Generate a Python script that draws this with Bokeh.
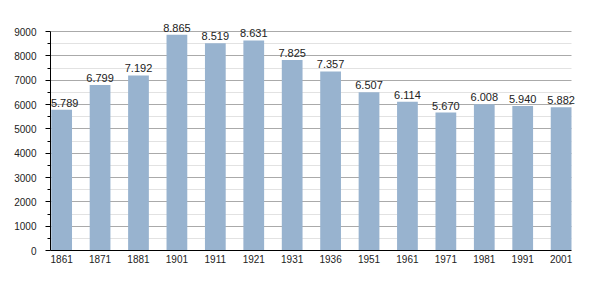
from bokeh.plotting import figure
from bokeh.models import Range1d, FixedTicker, ColumnDataSource, LabelSet
from bokeh.embed import file_html
from bokeh.resources import INLINE
from bokeh.core.properties import value

years = ["1861", "1871", "1881", "1901", "1911", "1921", "1931", "1936",
         "1951", "1961", "1971", "1981", "1991", "2001"]
population = [5789, 6799, 7192, 8865, 8519, 8631, 7825, 7357,
              6507, 6114, 5670, 6008, 5940, 5882]
y_ticks = [0, 1000, 2000, 3000, 4000, 5000, 6000, 7000, 8000, 9000]
y_minor = [500, 1500, 2500, 3500, 4500, 5500, 6500, 7500, 8500]

idx = list(range(len(years)))
labels = [f"{v:,}".replace(",", ".") for v in population]
# first label nudged right so it stays clear of the y axis
x_off = [3] + [0] * (len(years) - 1)
src = ColumnDataSource(dict(x=idx, y=population, lab=labels, xo=x_off))

FONT = "Liberation Sans"
YMAX = 9000
y_end = YMAX * 240 / 219
X0, X1 = -0.29, len(years) - 1 + 0.27
x_end = X1 + 6 / 38.42

p = figure(width=600, height=300, output_backend="svg", toolbar_location=None,
           x_range=Range1d(X0, x_end), y_range=Range1d(0, y_end),
           min_border_left=50, min_border_right=23, min_border_top=10, min_border_bottom=50)
p.outline_line_color = None
p.background_fill_color = "white"
p.border_fill_color = "white"

p.vbar(x="x", top="y", width=0.54, source=src, fill_color="#98b3cf", line_color=None)
lbl = LabelSet(x="x", y="y", text="lab", source=src, text_align="center", text_baseline="bottom",
               x_offset="xo", y_offset=3, text_font=value(FONT), text_font_size="11px",
               text_color="#222222")
p.add_layout(lbl)

# y axis
p.yaxis.ticker = FixedTicker(ticks=y_ticks, minor_ticks=y_minor)
p.yaxis.bounds = (0, YMAX)
p.yaxis.major_tick_out = 5
p.yaxis.major_tick_in = 0
p.yaxis.minor_tick_out = 3
p.yaxis.minor_tick_in = 0
p.yaxis.major_label_standoff = 9
p.yaxis.axis_line_color = "black"
p.yaxis.major_tick_line_color = "black"
p.yaxis.minor_tick_line_color = "black"
p.yaxis.major_label_text_font = FONT
p.yaxis.major_label_text_font_size = "10px"
p.yaxis.major_label_text_color = "#222222"

# x axis
p.xaxis.ticker = FixedTicker(ticks=idx, minor_ticks=[])
p.xaxis.bounds = (X0, X1)
p.xaxis.major_label_overrides = {i: y for i, y in zip(idx, years)}
p.xaxis.major_tick_out = 0
p.xaxis.major_tick_in = 0
p.xaxis.minor_tick_out = 0
p.xaxis.minor_tick_in = 0
p.xaxis.major_label_standoff = 4
p.xaxis.axis_line_color = "black"
p.xaxis.major_label_text_font = FONT
p.xaxis.major_label_text_font_size = "10px"
p.xaxis.major_label_text_color = "#222222"

# grids
p.xgrid.grid_line_color = None
p.ygrid.ticker = FixedTicker(ticks=y_ticks, minor_ticks=y_minor)
p.ygrid.bounds = (0, YMAX)
if "cross_bounds" in p.ygrid[0].properties():
    p.ygrid.cross_bounds = (X0, X1)
p.ygrid.grid_line_color = "#aaaaaa"
p.ygrid.minor_grid_line_color = "#e2e2e2"

open("out.html", "w").write(file_html(p, INLINE))
